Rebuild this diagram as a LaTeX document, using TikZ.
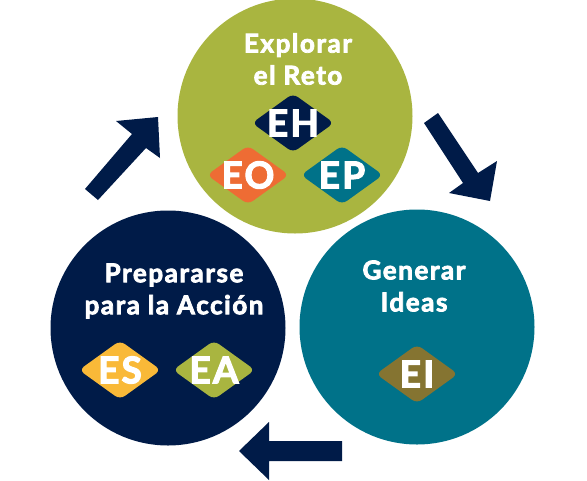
\documentclass[tikz,border=0pt]{standalone}
\usepackage{fontspec}
\setmainfont{Lato}[BoldFeatures={FakeBold=3, LetterSpace=6}]
\usetikzlibrary{shapes.geometric}
\definecolor{cgreen}{RGB}{169,181,64}
\definecolor{cnavy}{RGB}{0,27,72}
\definecolor{cteal}{RGB}{0,114,137}
\definecolor{corange}{RGB}{238,108,52}
\definecolor{cyellow}{RGB}{249,185,56}
\definecolor{colive}{RGB}{133,116,49}
\tikzset{
  phase/.style={circle, minimum size=235pt, inner sep=0pt},
  title/.style={text=white, font=\bfseries\fontsize{26}{32}\selectfont, align=center, inner sep=0pt},
  badge/.style={diamond, aspect=1.39, minimum width=82pt, minimum height=59pt, inner sep=0pt,
    rounded corners=6pt},
  btext/.style={text=white, inner sep=0pt, font=\bfseries\fontsize{37}{37}\selectfont},
  blockarrow/.style={fill=cnavy}
}
\begin{document}
\begin{tikzpicture}[x=1pt,y=-1pt]
\useasboundingbox (0,0) rectangle (587,480);
% circles
\node[phase, fill=cgreen] (explore) at (295,116) {};
\node[phase, fill=cnavy] (prepare) at (168,328) {};
\node[phase, fill=cteal] (generate) at (417,327) {};
% titles
\node[title] (t1) at (298,59) {Explorar\\el Reto};
\node[title] (t2) at (174,291) {Prepararse\\para la Acción};
\node[title] (t3) at (414,286) {Generar\\Ideas};
% badges
\node[badge, fill=cnavy, label={[btext]center:EH}] (eh) at (293,123) {};
\node[badge, fill=corange, label={[btext]center:EO}] (eo) at (248,175) {};
\node[badge, fill=cteal, label={[btext]center:EP}] (ep) at (342,175) {};
\node[badge, fill=cyellow, label={[btext]center:ES}] (es) at (120,370) {};
\node[badge, fill=cgreen, label={[btext]center:EA}] (ea) at (214,370) {};
\node[badge, fill=colive, label={[btext]center:EI}] (ei) at (417,374) {};
% block arrows
\fill[blockarrow] (85,189) -- (132,134) -- (116,121) -- (158,117) -- (160,158) -- (146,148) -- (98,200) -- cycle;
\fill[blockarrow] (438,113) -- (478,173) -- (497,161) -- (490,201) -- (449,193) -- (463,183) -- (424,123) -- cycle;
\fill[blockarrow] (239,451) -- (269,422) -- (269,441) -- (342,441) -- (342,461) -- (269,461) -- (269,480) -- cycle;
\end{tikzpicture}
\end{document}
